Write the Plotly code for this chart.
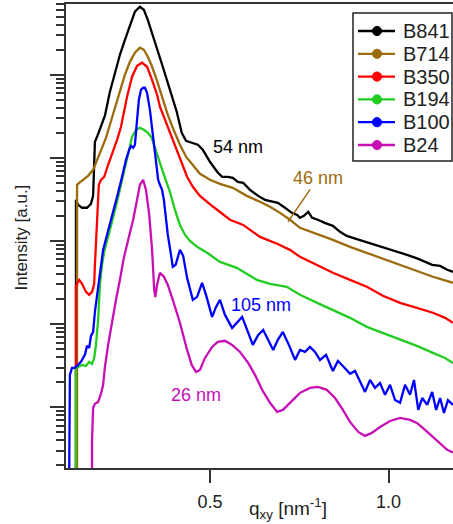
import plotly.graph_objects as go

# ---------------- data ----------------
series_names = ["B841", "B714", "B350", "B194", "B100", "B24"]
series_colors = ["#000000", "#9c6b0c", "#ff0000", "#22cc22", "#0000ff", "#c80fb4"]

q_B841 = [0.125, 0.125, 0.131, 0.142, 0.156, 0.167, 0.173, 0.175, 0.178, 0.184, 0.192, 0.206,
          0.220, 0.234, 0.248, 0.262, 0.276, 0.290, 0.304, 0.315, 0.326, 0.337, 0.351, 0.368,
          0.388, 0.407, 0.421, 0.433, 0.449, 0.466, 0.480, 0.500, 0.520, 0.534, 0.550, 0.564,
          0.578, 0.593, 0.612, 0.635, 0.654, 0.674, 0.690, 0.710, 0.729, 0.744, 0.752, 0.763,
          0.775, 0.786, 0.802, 0.821, 0.844, 0.864, 0.883, 0.900, 0.919, 0.939, 0.958, 0.978,
          0.998, 1.018, 1.038, 1.060, 1.083, 1.102, 1.122, 1.144, 1.164, 1.180]
I_B841 = [0.15, 313, 272, 251, 251, 280, 349, 947, 1560, 1792, 2175, 3222,
          6240, 10870, 17380, 26330, 40000, 57300, 65800, 60460, 45830, 32900, 21100, 12480,
          6590, 3590, 2005, 1606, 1521, 1439, 1250, 897, 680, 592, 592, 576,
          515, 501, 412, 349, 313, 296, 288, 251, 218, 206, 190, 201,
          224, 190, 180, 165, 152, 129, 115, 109, 103, 95, 90, 85,
          80.5, 76.2, 72.1, 66.3, 61.0, 56.1, 51.6, 50.2, 45.0, 42.6]

q_B714 = [0.128, 0.128, 0.134, 0.145, 0.159, 0.173, 0.184, 0.195, 0.209, 0.220, 0.234, 0.248,
          0.262, 0.276, 0.290, 0.304, 0.315, 0.326, 0.337, 0.351, 0.368, 0.382, 0.396, 0.416,
          0.433, 0.452, 0.472, 0.500, 0.528, 0.564, 0.603, 0.640, 0.668, 0.696, 0.724, 0.752,
          0.800, 0.844, 0.892, 0.939, 0.984, 1.032, 1.079, 1.124, 1.180]
I_B714 = [0.15, 474, 501, 544, 608, 718, 947, 1250, 1742, 2500, 4010, 6240,
          10000, 14300, 18360, 21100, 19960, 16440, 12820, 8690, 4993, 3300, 2300, 1439,
          1033, 826, 643, 544, 486, 436, 349, 296, 258, 218, 180, 144,
          122, 103, 85.0, 72.1, 61.0, 51.6, 43.8, 37.1, 31.4]

q_B350 = [0.125, 0.125, 0.134, 0.142, 0.153, 0.162, 0.170, 0.176, 0.178, 0.181, 0.184, 0.187,
          0.189, 0.195, 0.204, 0.215, 0.229, 0.240, 0.251, 0.268, 0.282, 0.296, 0.310, 0.324,
          0.338, 0.352, 0.360, 0.374, 0.388, 0.402, 0.416, 0.436, 0.452, 0.472, 0.509, 0.556,
          0.593, 0.640, 0.688, 0.724, 0.752, 0.800, 0.844, 0.892, 0.939, 0.984, 1.032, 1.079,
          1.124, 1.158, 1.180]
I_B350 = [0.15, 28.7, 34.1, 30.5, 24.4, 22.5, 24.4, 30.5, 51.6, 90, 156, 272,
          474, 544, 592, 826, 1183, 1648, 2366, 5430, 9460, 12820, 13940, 12480,
          8690, 5750, 4120, 2870, 2005, 1360, 947, 592, 449, 349, 258, 180,
          156, 112, 92.5, 78.2, 64.4, 51.6, 41.4, 34.1, 28.1, 21.9, 18.0, 15.7,
          13.7, 11.9, 10.4]

q_B194 = [0.125, 0.125, 0.131, 0.142, 0.153, 0.162, 0.170, 0.176, 0.181, 0.187, 0.192, 0.198,
          0.204, 0.215, 0.226, 0.240, 0.251, 0.259, 0.271, 0.282, 0.293, 0.304, 0.315, 0.326,
          0.337, 0.349, 0.360, 0.374, 0.388, 0.402, 0.416, 0.430, 0.444, 0.464, 0.492, 0.528,
          0.575, 0.631, 0.668, 0.715, 0.752, 0.800, 0.844, 0.892, 0.939, 0.984, 1.032, 1.079,
          1.124, 1.158, 1.180]
I_B194 = [0.15, 2.97, 3.05, 3.23, 3.14, 3.51, 3.32, 3.92, 5.62, 11.2, 29.6, 51.6,
          74.1, 109, 170, 296, 474, 718, 1183, 1792, 2175, 2301, 2175, 2005,
          1744, 1250, 873, 576, 391, 237, 156, 119, 100, 85.0, 72.1, 56.1,
          47.5, 34.1, 30.5, 28.1, 22.5, 18.0, 14.8, 11.9, 9.27, 7.83, 6.46, 5.47,
          4.51, 3.92, 3.41]

q_B100 = [0.106, 0.106, 0.108, 0.114, 0.122, 0.131, 0.139, 0.145, 0.150, 0.156, 0.162, 0.167,
          0.173, 0.178, 0.184, 0.192, 0.201, 0.212, 0.226, 0.240, 0.254, 0.265, 0.274, 0.279,
          0.285, 0.290, 0.296, 0.301, 0.307, 0.313, 0.318, 0.324, 0.332, 0.341, 0.349, 0.355,
          0.360, 0.366, 0.371, 0.377, 0.382, 0.391, 0.396, 0.404, 0.416, 0.425, 0.436, 0.452,
          0.464, 0.478, 0.489, 0.506, 0.517, 0.528, 0.542, 0.562, 0.576, 0.590, 0.604, 0.620,
          0.635, 0.649, 0.663, 0.677, 0.690, 0.704, 0.721, 0.738, 0.752, 0.766, 0.780, 0.794,
          0.808, 0.825, 0.844, 0.858, 0.872, 0.892, 0.906, 0.920, 0.934, 0.948, 0.962, 0.976,
          0.990, 1.004, 1.018, 1.032, 1.046, 1.060, 1.071, 1.083, 1.094, 1.108, 1.122, 1.133,
          1.144, 1.155, 1.166, 1.180]
I_B100 = [0.15, 0.705, 2.45, 2.97, 2.97, 3.23, 3.51, 3.92, 4.27, 5.47, 5.17, 7.21,
          8.06, 14.0, 22.5, 45.0, 78.2, 119, 195, 340, 592, 947, 1250, 1396,
          1321, 1436, 2870, 4993, 6590, 6970, 6970, 6070, 3785, 1648, 824, 544,
          474, 412, 313, 190, 119, 68.1, 48.9, 51.6, 78.2, 66.3, 36.0, 19.6,
          21.3, 31.4, 22.5, 12.2, 16.1, 19.6, 12.9, 9.00, 10.6, 12.2, 8.52, 5.62,
          7.43, 8.52, 6.46, 4.89, 6.46, 8.06, 5.62, 3.71, 4.89, 4.63, 5.33, 4.63,
          3.71, 4.27, 2.73, 3.60, 3.14, 2.52, 2.73, 2.02, 1.53, 2.13, 1.71, 1.96,
          1.41, 1.86, 1.22, 1.13, 1.86, 1.41, 2.13, 0.929, 1.29, 1.07, 1.53, 0.929,
          1.29, 0.855, 1.22, 1.07]

q_B24 = [0.170, 0.170, 0.173, 0.178, 0.187, 0.195, 0.201, 0.206, 0.215, 0.226, 0.237, 0.248,
         0.259, 0.271, 0.285, 0.296, 0.304, 0.313, 0.321, 0.330, 0.338, 0.344, 0.347, 0.352,
         0.360, 0.371, 0.382, 0.396, 0.416, 0.436, 0.449, 0.461, 0.472, 0.486, 0.506, 0.522,
         0.542, 0.562, 0.584, 0.607, 0.626, 0.646, 0.668, 0.688, 0.704, 0.724, 0.752, 0.780,
         0.802, 0.827, 0.850, 0.872, 0.892, 0.915, 0.934, 0.953, 0.976, 1.004, 1.032, 1.060,
         1.079, 1.102, 1.124, 1.144, 1.164, 1.180]
I_B24 = [0.15, 0.405, 0.985, 1.10, 1.16, 1.45, 1.86, 3.06, 5.62, 11.2, 19.6, 34.1,
         62.7, 103, 180, 313, 474, 544, 412, 206, 78.2, 25.8, 21.2, 29.6,
         41.4, 37.1, 29.6, 19.6, 10.4, 4.89, 3.23, 2.66, 2.81, 3.92, 5.32, 6.12,
         6.30, 5.62, 4.63, 3.41, 2.45, 1.62, 1.13, 0.878, 0.929, 1.13, 1.49, 1.71,
         1.76, 1.62, 1.29, 0.929, 0.667, 0.505, 0.452, 0.491, 0.579, 0.684, 0.743, 0.705,
         0.648, 0.534, 0.439, 0.361, 0.307, 0.285]

q_list = [q_B841, q_B714, q_B350, q_B194, q_B100, q_B24]
I_list = [I_B841, I_B714, I_B350, I_B194, I_B100, I_B24]

x_tick_vals = [0.5, 1.0]
x_tick_text = ["0.5", "1.0"]

# annotation labels: (text, q, log10 intensity, color)
labels = [("54 nm", 0.579, 3.133, "#000000"),
          ("105 nm", 0.643, 1.233, "#0000ff"),
          ("26 nm", 0.461, 0.149, "#c80fb4")]

FONT = "Liberation Sans, Arial, sans-serif"

# ---------------- layout geometry (pixels -> paper) ----------------
W, H = 453, 524
ML, MR, MT, MB = 66, 0, 4, 56
PW, PH = W - ML - MR, H - MT - MB


def px_x(p):
    return (p - ML) / PW


def px_y(p):
    return (H - MB - p) / PH


fig = go.Figure()
for name, col, qs, Is in zip(series_names, series_colors, q_list, I_list):
    fig.add_trace(go.Scatter(x=qs, y=Is, mode="lines", line=dict(color=col, width=2.3),
                             name=name, showlegend=False, hoverinfo="skip"))

ann = []
for text, qx, ly, col in labels:
    ann.append(dict(x=qx, y=ly, xref="x", yref="y", text=text, showarrow=False,
                    xanchor="center", yanchor="middle",
                    font=dict(family=FONT, size=18, color=col)))
# 46 nm label with leader line
ann.append(dict(x=0.7184, y=2.230, xref="x", yref="y", text="46 nm", showarrow=True,
                arrowhead=0, arrowwidth=1.5, arrowcolor="#9c6b0c", ax=30, ay=-44,
                standoff=0, font=dict(family=FONT, size=18, color="#9c6b0c")))
# axis titles
ann.append(dict(x=px_x(288), y=px_y(508), xref="paper", yref="paper",
                xanchor="center", yanchor="middle",
                text="q<sub>xy</sub> [nm<sup>-1</sup>]", showarrow=False,
                font=dict(family=FONT, size=19, color="#222222")))
ann.append(dict(x=px_x(21), y=px_y(237.5), xref="paper", yref="paper", text="Intensity [a.u.]",
                xanchor="center", yanchor="middle",
                textangle=-90, showarrow=False, font=dict(family=FONT, size=17, color="#222222")))

# manual legend (box, line+marker samples, names)
shapes = [dict(type="rect", xref="paper", yref="paper", x0=px_x(353), x1=px_x(452),
               y0=px_y(161), y1=px_y(13), line=dict(color="#222222", width=1.5),
               fillcolor="white", layer="above")]
for i, (name, col) in enumerate(zip(series_names, series_colors)):
    yc = 31 + 22.8 * i
    shapes.append(dict(type="line", xref="paper", yref="paper", x0=px_x(358), x1=px_x(395),
                       y0=px_y(yc), y1=px_y(yc), line=dict(color=col, width=2.3)))
    r = 4.6
    shapes.append(dict(type="circle", xref="paper", yref="paper", x0=px_x(377 - r),
                       x1=px_x(377 + r), y0=px_y(yc + r), y1=px_y(yc - r),
                       fillcolor=col, line=dict(color=col, width=1)))
    ann.append(dict(x=px_x(401), y=px_y(yc), xref="paper", yref="paper", text=name,
                    xanchor="left", yanchor="middle", showarrow=False,
                    font=dict(family=FONT, size=20, color="#222222")))

fig.update_layout(
    width=W, height=H,
    margin=dict(l=ML, r=MR, t=MT, b=MB),
    plot_bgcolor="white", paper_bgcolor="white",
    font=dict(family=FONT, size=18, color="#222222"),
    annotations=ann, shapes=shapes, showlegend=False,
)
fig.update_xaxes(range=[0.0971, 1.1802], showline=True, linecolor="#333333", linewidth=2,
                 mirror=True, showgrid=False, zeroline=False, ticks="outside", ticklen=13,
                 tickwidth=1.5, tickcolor="#333333", tickmode="array", tickvals=x_tick_vals,
                 ticktext=x_tick_text, ticklabelstandoff=3,
                 tickfont=dict(family=FONT, size=18, color="#222222"))
fig.update_yaxes(type="log", range=[-0.731, 4.851], showline=True, linecolor="#333333",
                 linewidth=2, showgrid=False, zeroline=False, ticks="outside", ticklen=14,
                 tickwidth=1.5, tickcolor="#333333", dtick=1, showticklabels=False,
                 minor=dict(ticks="outside", ticklen=8, tickwidth=1.5, tickcolor="#333333",
                            dtick="D1", showgrid=False))

fig.write_html("out.html")
